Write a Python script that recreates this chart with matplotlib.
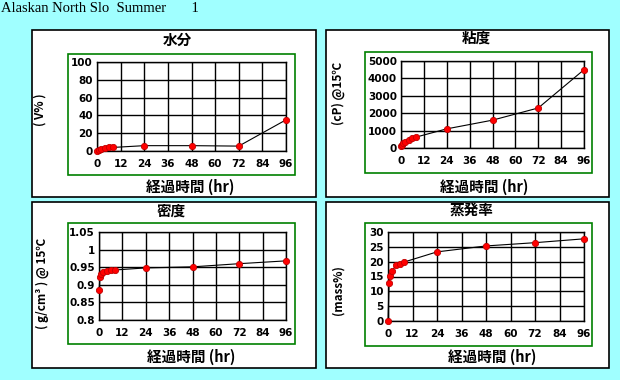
import matplotlib
matplotlib.use('Agg')
import matplotlib.pyplot as plt
from matplotlib.patches import Rectangle

plt.rcParams['font.family'] = ['Noto Sans CJK JP', 'DejaVu Sans']

# data
hours = [0, 0.5, 1, 2, 4, 6, 8, 24, 48, 72, 96]
water_hours = [0, 1, 2, 4, 6, 8, 24, 48, 72, 96]
water = [0.5, 1.5, 2, 3, 4, 4, 6, 6, 5.5, 35]
viscosity = [100, 200, 260, 350, 460, 560, 630, 1100, 1600, 2300, 4500]
density = [0.884, 0.923, 0.932, 0.937, 0.940, 0.941, 0.942, 0.948, 0.951, 0.960, 0.968]
evap = [0, 12.7, 15.3, 17.0, 18.8, 19.1, 19.9, 23.3, 25.3, 26.4, 27.7]

xticks = [0, 12, 24, 36, 48, 60, 72, 84, 96]

W, H = 620, 380
BG = '#a0ffff'

fig = plt.figure(figsize=(W / 100, H / 100), dpi=100, facecolor=BG)


def fx(x):
    return x / W


def fy(y):
    return 1 - y / H


def box(x0, y0, x1, y1, color, lw=1.0, face='none'):
    fig.patches.append(Rectangle((fx(x0), fy(y1)), fx(x1) - fx(x0), fy(y0) - fy(y1),
                                 transform=fig.transFigure, fill=(face != 'none'),
                                 facecolor=face, edgecolor=color, lw=lw, zorder=-1))


def panel(p, g, a, xs, ys, ylim, yticks, ytlabels, title, tpos, ylabel, ylpos, xlpos):
    box(*p, 'black', 1.2, 'white')
    box(*g, '#008000', 1.2)
    ax = fig.add_axes([fx(a[0]), fy(a[3]), fx(a[2]) - fx(a[0]), fy(a[1]) - fy(a[3])])
    ax.set_facecolor('white')
    ax.plot(xs, ys, color='black', lw=0.8, marker='o', ms=4.5,
            mfc='red', mec='#c00000', mew=0.6, clip_on=False, zorder=3)
    ax.set_xlim(0, 96)
    ax.set_ylim(*ylim)
    ax.set_xticks(xticks)
    ax.set_yticks(yticks)
    ax.set_yticklabels(ytlabels)
    ax.grid(True, color='black', lw=1.0)
    for s in ax.spines.values():
        s.set_color('black')
        s.set_linewidth(1.0)
    ax.tick_params(length=0, labelsize=7.5, pad=3, colors='black')
    for lab in ax.get_xticklabels() + ax.get_yticklabels():
        lab.set_fontweight('bold')
        lab.set_family('DejaVu Sans')
    ax.tick_params(axis='x', pad=6)
    fig.text(fx(tpos[0]), fy(tpos[1]), title, ha='center', va='center',
             fontsize=10.5, fontweight='bold')
    fig.text(fx(xlpos[0]), fy(xlpos[1]), '経過時間 (hr)', ha='center', va='center',
             fontsize=10.5, fontweight='bold')
    fig.text(fx(ylpos[0]), fy(ylpos[1]), ylabel, ha='center', va='center',
             rotation=90, fontsize=8.5, fontweight='bold')
    return ax


panel((32, 30, 316, 197), (68, 54, 295, 175), (97, 62, 286, 151),
      water_hours, water, (0, 100), [0, 20, 40, 60, 80, 100],
      ['0', '20', '40', '60', '80', '100'],
      '水分', (177, 40), '( V% )', (40, 110), (190, 187))

panel((326, 30, 609, 197), (365, 52, 592, 173), (401, 61, 584, 148),
      hours, viscosity, (0, 5000), [0, 1000, 2000, 3000, 4000, 5000],
      ['0', '1000', '2000', '3000', '4000', '5000'],
      '粘度', (476, 38), '(cP) @15℃', (338, 93), (484, 187))

panel((32, 202, 316, 368), (68, 223, 295, 344), (99, 232, 286, 320),
      hours, density, (0.8, 1.05), [0.8, 0.85, 0.9, 0.95, 1.0, 1.05],
      ['0.8', '0.85', '0.9', '0.95', '1', '1.05'],
      '密度', (171, 211), '( g/cm³ ) @ 15℃', (42, 283), (191, 357))

panel((326, 202, 609, 368), (365, 223, 592, 346), (388, 232, 584, 321),
      hours, evap, (0, 30), [0, 5, 10, 15, 20, 25, 30],
      ['0', '5', '10', '15', '20', '25', '30'],
      '蒸発率', (472, 210), '(mass%)', (338, 290), (492, 357))

fig.text(fx(1), fy(9), 'Alaskan North Slo  Summer       1', ha='left', va='center',
         fontsize=10.5, family='Liberation Serif')

fig.savefig('out.png', dpi=100, facecolor=BG)
